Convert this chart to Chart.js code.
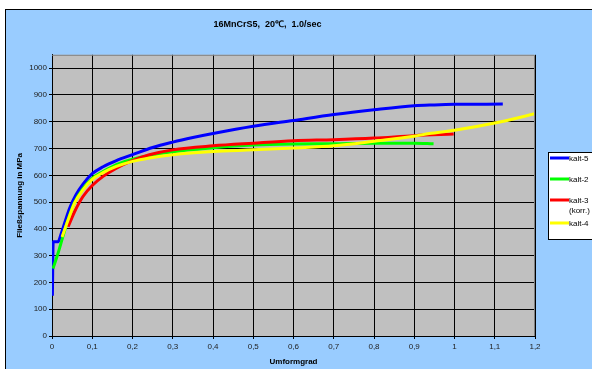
<!DOCTYPE html>
<html>
<head>
<meta charset="utf-8">
<script src="https://cdn.jsdelivr.net/npm/chart.js@4"></script>
<style>
  html, body { margin: 0; padding: 0; background: #fff; }
  #wrap { width: 592px; height: 369px; position: relative; }
</style>
</head>
<body>
<div id="wrap"><canvas id="flowChart"></canvas></div>
<script>
// Fließkurven 16MnCrS5 (Umformgrad vs. Fließspannung)
const kalt5X = [0.001, 0.003, 0.015, 0.023, 0.032, 0.044, 0.06, 0.077, 0.1, 0.127, 0.16, 0.2, 0.25, 0.3, 0.35, 0.4, 0.5, 0.6, 0.7, 0.8, 0.9, 0.95, 1.0, 1.12];
const kalt5Y = [150, 352, 352, 383, 425, 478, 528, 567, 606, 632, 655, 677, 704, 724, 741, 756, 783, 805, 827, 845, 860, 863, 865, 866];

const kalt2X = [0.0025, 0.015, 0.027, 0.04, 0.056, 0.077, 0.1, 0.127, 0.16, 0.2, 0.3, 0.4, 0.5, 0.6, 0.7, 0.8, 0.9, 0.948];
const kalt2Y = [252, 309, 371, 435, 499, 550, 589, 614, 640, 660, 688, 703, 713, 717, 718, 720, 720, 718];

const kalt3X = [0.04, 0.056, 0.077, 0.1, 0.127, 0.16, 0.2, 0.242, 0.3, 0.4, 0.5, 0.6, 0.7, 0.8, 0.9, 0.998];
const kalt3Y = [408, 464, 521, 562, 596, 627, 655, 677, 695, 710, 720, 729, 733, 739, 748, 754];

const kalt4X = [0.025, 0.04, 0.056, 0.077, 0.1, 0.127, 0.16, 0.2, 0.242, 0.3, 0.4, 0.5, 0.6, 0.7, 0.8, 0.9, 0.937, 1.0, 1.1, 1.2];
const kalt4Y = [370, 433, 496, 546, 585, 610, 633, 652, 665, 677, 689, 695, 702, 710, 727, 746, 756, 768, 795, 830];

const seriesNames = [['kalt-5'], ['kalt-2'], ['kalt-3', '(korr.)'], ['kalt-4']];
const seriesColors = ['#0000ff', '#00ff00', '#ff0000', '#ffff00'];

function toPoints(xs, ys) {
    return xs.map((x, i) => ({ x: x, y: ys[i] }));
}

// background, plot area and custom legend
const excelLook = {
    id: 'excelLook',
    beforeDraw(chart) {
        const { ctx, chartArea: a } = chart;
        ctx.save();
        ctx.fillStyle = '#ffffff';
        ctx.fillRect(0, 0, chart.width, chart.height);
        ctx.fillStyle = '#99ccff';
        ctx.fillRect(5, 9, chart.width, chart.height);
        ctx.strokeStyle = '#000';
        ctx.lineWidth = 1;
        ctx.strokeRect(5.5, 9.5, chart.width + 10, chart.height + 10);
        ctx.fillStyle = '#c0c0c0';
        ctx.fillRect(a.left, a.top, a.right - a.left, a.bottom - a.top);
        ctx.restore();
    },
    afterDraw(chart) {
        const { ctx, chartArea: a } = chart;
        ctx.save();
        ctx.strokeStyle = '#808080';
        ctx.lineWidth = 1;
        ctx.beginPath();
        ctx.moveTo(a.left, a.top + 0.5);
        ctx.lineTo(a.right - 0.5, a.top + 0.5);
        ctx.lineTo(a.right - 0.5, a.bottom);
        ctx.stroke();

        // legend
        ctx.fillStyle = '#fff';
        ctx.fillRect(548, 152, 60, 87);
        ctx.strokeStyle = '#000';
        ctx.strokeRect(548.5, 152.5, 60, 87);
        const rows = [158, 179, 200, 223];
        ctx.font = '8px Arial, "Liberation Sans", sans-serif';
        ctx.textBaseline = 'middle';
        chart.data.datasets.forEach((ds, i) => {
            const y = rows[i];
            ctx.strokeStyle = ds.borderColor;
            ctx.lineWidth = 3;
            ctx.beginPath();
            ctx.moveTo(550, y);
            ctx.lineTo(569, y);
            ctx.stroke();
            ctx.fillStyle = '#000';
            seriesNames[i].forEach((t, k) => ctx.fillText(t, 569, y + 1 + k * 9.5));
        });
        ctx.restore();
    }
};

const flowCtx = document.getElementById('flowChart').getContext('2d');
const flowChart = new Chart(flowCtx, {
    type: 'line',
    data: {
        datasets: [
            { label: 'kalt-5', data: toPoints(kalt5X, kalt5Y), borderColor: seriesColors[0], order: 4 },
            { label: 'kalt-2', data: toPoints(kalt2X, kalt2Y), borderColor: seriesColors[1], order: 3 },
            { label: 'kalt-3 (korr.)', data: toPoints(kalt3X, kalt3Y), borderColor: seriesColors[2], order: 2 },
            { label: 'kalt-4', data: toPoints(kalt4X, kalt4Y), borderColor: seriesColors[3], order: 1 }
        ]
    },
    options: {
        responsive: true,
        maintainAspectRatio: false,
        animation: false,
        elements: {
            point: { radius: 0 },
            line: { borderWidth: 3, cubicInterpolationMode: 'monotone', fill: false }
        },
        layout: { padding: { left: 0, right: 57, top: 0, bottom: 0 } },
        plugins: {
            legend: { display: false },
            tooltip: { enabled: false },
            title: {
                display: true,
                text: '16MnCrS5,  20℃,  1.0/sec',
                color: '#000',
                font: { family: 'Arial, "Liberation Sans", sans-serif', size: 9, weight: 'bold', lineHeight: 1.2 },
                padding: { top: 19, bottom: 25 }
            }
        },
        scales: {
            x: {
                type: 'linear',
                min: 0,
                max: 1.2,
                afterFit(scale) { scale.height = 33; },
                grid: { color: '#000', tickLength: 3, tickColor: '#000' },
                border: { color: '#000' },
                ticks: {
                    stepSize: 0.1,
                    color: '#222',
                    padding: 3,
                    maxRotation: 0,
                    font: { family: 'Arial, "Liberation Sans", sans-serif', size: 8 },
                    callback: v => String(Math.round(v * 10) / 10).replace('.', ',')
                },
                title: {
                    display: true,
                    text: 'Umformgrad',
                    color: '#000',
                    padding: { top: 0, bottom: 2 },
                    font: { family: 'Arial, "Liberation Sans", sans-serif', size: 8, weight: 'bold' }
                }
            },
            y: {
                min: 0,
                max: 1050,
                afterFit(scale) { scale.width = 52; },
                grid: { color: '#000', tickLength: 3, tickColor: '#000' },
                border: { color: '#000' },
                ticks: {
                    stepSize: 100,
                    includeBounds: false,
                    color: '#222',
                    padding: 2,
                    font: { family: 'Arial, "Liberation Sans", sans-serif', size: 8 },
                    callback: v => String(v)
                },
                title: {
                    display: true,
                    text: 'Fließspannung in MPa',
                    color: '#000',
                    padding: { top: 15, bottom: 0 },
                    font: { family: 'Arial, "Liberation Sans", sans-serif', size: 8, weight: 'bold' }
                }
            }
        }
    },
    plugins: [excelLook]
});
</script>
</body>
</html>
